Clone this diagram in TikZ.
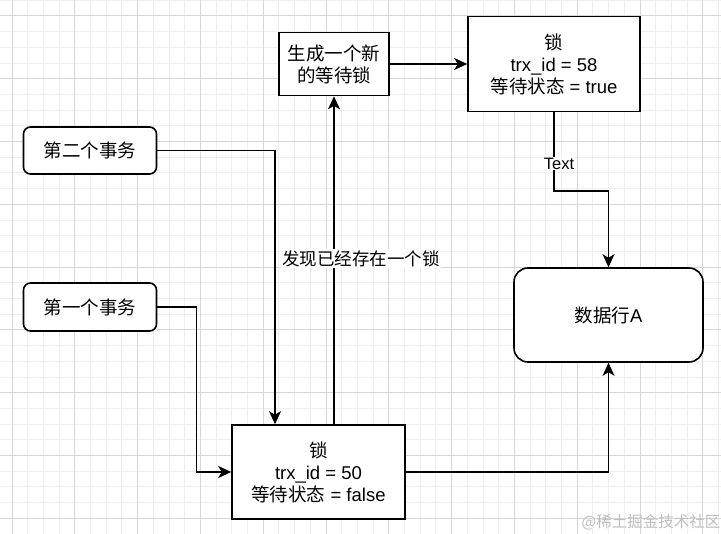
\documentclass[tikz,border=0pt]{standalone}
\usepackage{fontspec}
\setmainfont{Liberation Sans}
\newfontfamily\cjk{Noto Sans CJK SC}
\usepackage{tikz}
\usetikzlibrary{positioning,arrows.meta}
\definecolor{gridminor}{RGB}{238,238,238}
\definecolor{gridmajor}{RGB}{214,214,214}
\definecolor{markgray}{RGB}{190,190,190}

\tikzset{
  box/.style={draw=black, line width=1.6pt, fill=white, align=center,
              inner sep=0pt, font=\fontsize{18.5}{22}\selectfont},
  txbox/.style={box, rounded corners=7pt},
  link/.style={draw=black, line width=1.6pt,
               -{Stealth[length=13pt,width=12pt,inset=3.5pt]}},
  lbl/.style={fill=white, inner sep=1pt, font=\fontsize{16.5}{20}\selectfont},
}

\begin{document}
\begin{tikzpicture}[x=1pt, y=-1pt]
  \useasboundingbox (0,0) rectangle (721,534);
  \fill[white] (0,0) rectangle (721,534);
  \begin{scope}
    \clip (0,0) rectangle (721,534);
    \foreach \i in {-1,...,45}
      \draw[gridminor, line width=1pt] ({12+15.7*\i},0) -- ++(0,534);
    \foreach \j in {-1,...,34}
      \draw[gridminor, line width=1pt] (0,{16+15.7*\j}) -- ++(721,0);
    \foreach \i in {0,...,11}
      \draw[gridmajor, line width=1pt] ({12+62.8*\i},0) -- ++(0,534);
    \foreach \j in {0,...,8}
      \draw[gridmajor, line width=1pt] (0,{16+62.8*\j}) -- ++(721,0);
  \end{scope}

  \node[txbox, minimum width=133pt, minimum height=47pt] (tx2) at (90,150.5)
    {\cjk 第二个事务};
  \node[txbox, minimum width=133pt, minimum height=48pt] (tx1) at (90,307)
    {\cjk 第一个事务};
  \node[box, minimum width=110pt, minimum height=63pt] (newlock) at (334,64)
    {\cjk 生成一个新\\\cjk 的等待锁};
  \node[box, minimum width=172pt, minimum height=95pt] (lock58) at (554,64)
    {{\cjk 锁}\\trx\_id = 58\\{\cjk 等待状态} = true};
  \node[box, rounded corners=14pt, minimum width=189pt, minimum height=94pt] (rowA) at (608.5,315)
    {{\cjk 数据行}A};
  \node[box, minimum width=173pt, minimum height=94pt] (lock50) at (318.5,472)
    {{\cjk 锁}\\trx\_id = 50\\{\cjk 等待状态} = false};

  \draw[link] (tx2.east) -| ([xshift=-43.5pt]lock50.north);
  \draw[link] (tx1.east) -- ++(39,0) |- (lock50.west);
  \draw[link] ([xshift=15.5pt]lock50.north) -- (newlock.south)
    node[lbl, pos=0.505, xshift=27pt, font=\fontsize{17.5}{22}\selectfont] (found) {\cjk 发现已经存在一个锁};
  \draw[link] (newlock.east) -- (lock58.west);
  \draw[link] (lock58.south) -- ++(0,79) node[lbl, pos=0.65, xshift=5pt] (txt) {Text} -| (rowA.north);
  \draw[link] (lock50.east) -| (rowA.south);

  \node[text=markgray, font=\fontsize{15.5}{18}\selectfont] (mark) at (651,522) {\cjk @稀土掘金技术社区};
\end{tikzpicture}
\end{document}
